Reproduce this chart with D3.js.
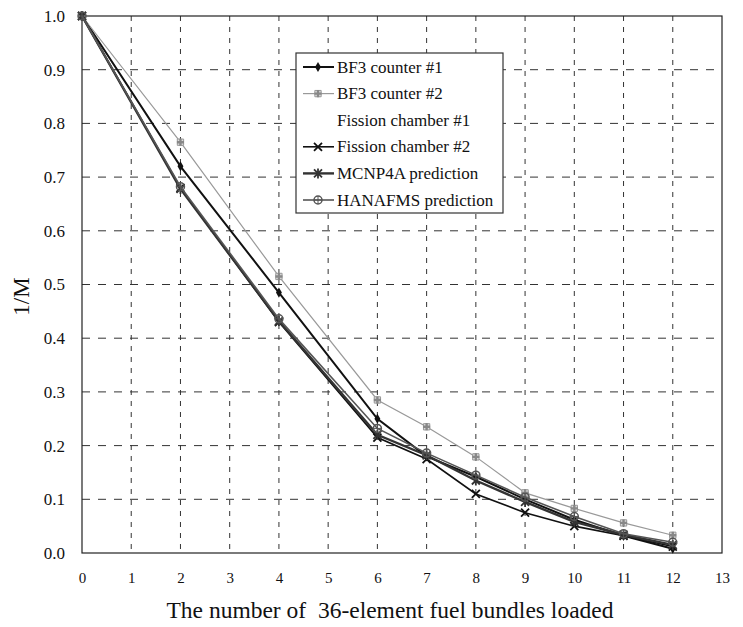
<!DOCTYPE html>
<html>
<head>
<meta charset="utf-8">
<title>1/M fuel loading</title>
<script src="https://d3js.org/d3.v7.min.js"></script>
<style>
  body { margin: 0; background: #fff; }
  text { font-family: 'Liberation Serif', 'Times New Roman', serif; fill: #111; white-space: pre; }
</style>
</head>
<body>
<div id="chart"></div>
<script>
// ******* Data *******
const bundles = [0, 2, 4, 6, 7, 8, 9, 10, 11, 12];
const bf3Counter1 = [1.0, 0.72, 0.485, 0.25, 0.18, 0.142, 0.10, 0.062, 0.032, 0.008];
const bf3Counter2 = [1.0, 0.765, 0.515, 0.285, 0.235, 0.179, 0.112, 0.083, 0.056, 0.033];
const fission2 = [1.0, 0.68, 0.43, 0.215, 0.175, 0.11, 0.075, 0.05, 0.032, 0.012];
const mcnp4a = [1.0, 0.678, 0.432, 0.22, 0.182, 0.135, 0.095, 0.058, 0.034, 0.015];
const hanafms = [1.0, 0.682, 0.436, 0.232, 0.186, 0.145, 0.104, 0.068, 0.036, 0.02];
const xTicks = d3.range(0, 14);
const yTicks = d3.range(0, 11).map(d => d / 10);
const legendLabels = ["BF3 counter #1", "BF3 counter #2", "Fission chamber #1",
                      "Fission chamber #2", "MCNP4A prediction", "HANAFMS prediction"];

// ******* Constants *******
const width = 743, height = 627,
      margin = {top: 16, right: 21, bottom: 74, left: 82};
const iw = width - margin.left - margin.right,
      ih = height - margin.top - margin.bottom;
const serif = "'Liberation Serif', 'Times New Roman', serif";

const x = d3.scaleLinear().domain([0, 13]).range([0, iw]);
const y = d3.scaleLinear().domain([0, 1]).range([ih, 0]);

const svg = d3.select("#chart").append("svg")
    .attr("width", width).attr("height", height)
    .attr("font-family", serif);
const g = svg.append("g").attr("transform", `translate(${margin.left},${margin.top})`);

// ******* Grid *******
g.selectAll(".vgrid").data(xTicks.filter(d => d > 0 && d < 13)).enter()
  .append("line")
  .attr("x1", d => x(d)).attr("x2", d => x(d))
  .attr("y1", 0).attr("y2", ih)
  .attr("stroke", "#333").attr("stroke-width", 1)
  .attr("stroke-dasharray", "5,6");
g.selectAll(".hgrid").data(yTicks.filter(d => d > 0 && d < 1)).enter()
  .append("line")
  .attr("x1", 0).attr("x2", iw)
  .attr("y1", d => y(d)).attr("y2", d => y(d))
  .attr("stroke", "#333").attr("stroke-width", 1)
  .attr("stroke-dasharray", "8,8");

// frame
g.append("rect").attr("width", iw).attr("height", ih)
  .attr("fill", "none").attr("stroke", "#222").attr("stroke-width", 1.2);

// ******* Axes *******
const xAxis = g.append("g").attr("transform", `translate(0,${ih})`)
  .call(d3.axisBottom(x).tickValues(xTicks).tickSize(0).tickPadding(19).tickFormat(d3.format("d")));
xAxis.attr("font-family", serif).attr("font-size", 15);
xAxis.select(".domain").remove();

const yAxis = g.append("g")
  .call(d3.axisLeft(y).tickValues(yTicks).tickSize(0).tickPadding(17).tickFormat(d3.format(".1f")));
yAxis.attr("font-family", serif).attr("font-size", 17);
yAxis.select(".domain").remove();

svg.append("text")
  .attr("x", 390).attr("y", 618)
  .attr("text-anchor", "middle").attr("font-size", 23.5)
  .attr("xml:space", "preserve")
  .text("The number of  36-element fuel bundles loaded");
svg.append("text")
  .attr("transform", `translate(29, ${margin.top + ih / 2 + 12}) rotate(-90)`)
  .attr("text-anchor", "middle").attr("font-size", 23)
  .text("1/M");

// ******* Series *******
const series = [
  {name: legendLabels[0], values: bf3Counter1, color: "#111", width: 2, sym: "diamond"},
  {name: legendLabels[1], values: bf3Counter2, color: "#999", width: 1.2, sym: "star"},
  {name: legendLabels[2], values: null, color: "none", width: 0, sym: null},
  {name: legendLabels[3], values: fission2, color: "#111", width: 1.6, sym: "x"},
  {name: legendLabels[4], values: mcnp4a, color: "#333", width: 2.4, sym: "aster"},
  {name: legendLabels[5], values: hanafms, color: "#555", width: 1.6, sym: "circ"}
];

const line = d3.line().x((d, i) => x(bundles[i])).y(d => y(d));

function marker(sel, s, cx, cy) {
  const m = sel.append("g").attr("transform", `translate(${cx},${cy})`);
  if (s.sym === "diamond") {
    m.append("path").attr("d", d3.symbol(d3.symbolDiamond, 30)()).attr("fill", s.color);
  } else if (s.sym === "star") {
    m.append("path").attr("d", d3.symbol(d3.symbolSquare, 40)())
      .attr("fill", "#ddd").attr("stroke", s.color).attr("stroke-width", 1);
    m.append("path").attr("d", d3.symbol(d3.symbolCross, 28)()).attr("fill", "#888");
  } else if (s.sym === "x") {
    m.append("path").attr("d", "M-4,-4L4,4M-4,4L4,-4")
      .attr("stroke", s.color).attr("stroke-width", 1.8);
  } else if (s.sym === "aster") {
    m.append("path").attr("d", "M-4,-4L4,4M-4,4L4,-4M0,-5L0,5")
      .attr("stroke", s.color).attr("stroke-width", 1.8);
  } else if (s.sym === "circ") {
    m.append("circle").attr("r", 4).attr("fill", "none")
      .attr("stroke", s.color).attr("stroke-width", 1.5);
    m.append("path").attr("d", "M-4,0L4,0M0,-4L0,4")
      .attr("stroke", s.color).attr("stroke-width", 1);
  }
}

series.filter(s => s.values).forEach(s => {
  g.append("path").datum(s.values)
    .attr("d", line).attr("fill", "none")
    .attr("stroke", s.color).attr("stroke-width", s.width);
  s.values.forEach((v, i) => marker(g, s, x(bundles[i]), y(v)));
});

// ******* Legend *******
const lg = svg.append("g").attr("transform", "translate(296,53)");
lg.append("rect").attr("width", 207).attr("height", 160)
  .attr("fill", "#fff").attr("stroke", "#333").attr("stroke-width", 1.2);
series.forEach((s, i) => {
  const ry = 14 + i * 26.6;
  if (s.values) {
    lg.append("line").attr("x1", 7).attr("x2", 38).attr("y1", ry).attr("y2", ry)
      .attr("stroke", s.color).attr("stroke-width", s.width);
    marker(lg, s, 22, ry);
  }
  lg.append("text").attr("x", 41).attr("y", ry + 5.5)
    .attr("font-size", 17).text(s.name);
});
</script>
</body>
</html>
